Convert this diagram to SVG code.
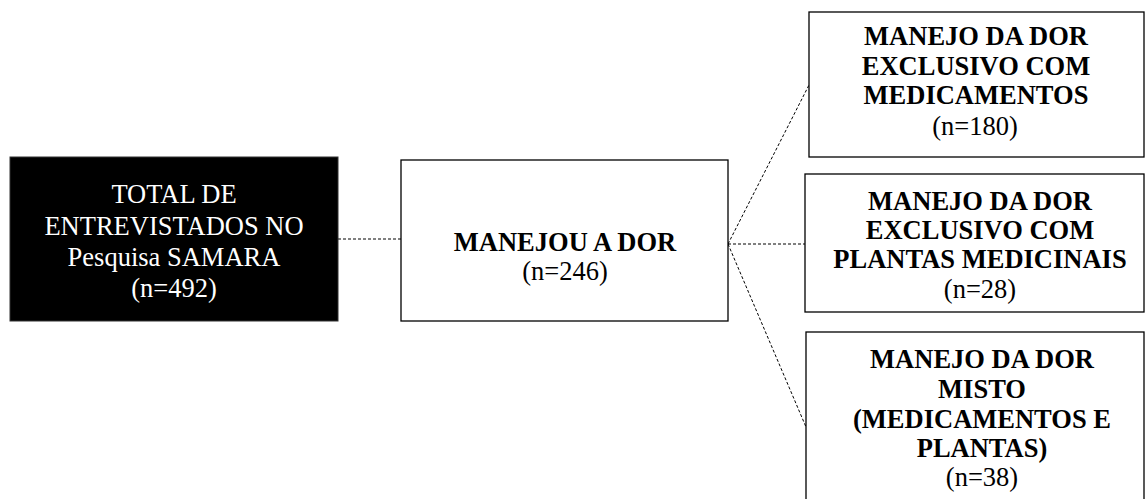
<svg xmlns="http://www.w3.org/2000/svg" width="1145" height="499" viewBox="0 0 1145 499">
<style>
.box{fill:#fff;stroke:#000;stroke-width:1.3}
.t{font-family:"Liberation Serif","Times New Roman",serif;font-size:26.5px;text-anchor:middle;fill:#000}
.b{font-weight:bold}
.w{fill:#fff}
.c{stroke:#000;stroke-width:1;stroke-dasharray:3,2;fill:none}
</style>
<rect width="1145" height="499" fill="#fff"/>
<g id="connectors">
<line class="c" x1="338" y1="239" x2="401" y2="239"/>
<line class="c" x1="728" y1="244" x2="809" y2="85"/>
<line class="c" x1="728" y1="244" x2="805" y2="244"/>
<line class="c" x1="728" y1="244" x2="806" y2="427"/>
</g>
<g id="total">
<rect x="10" y="157" width="328" height="164" fill="#000" stroke="#333" stroke-width="1"/>
<text class="t w" x="174" y="203">TOTAL DE</text>
<text class="t w" x="174" y="235">ENTREVISTADOS NO</text>
<text class="t w" x="174" y="266">Pesquisa SAMARA</text>
<text class="t w" x="174" y="297">(n=492)</text>
</g>
<g id="manejou">
<rect class="box" x="401" y="160" width="327" height="161"/>
<text class="t b" x="565" y="251">MANEJOU A DOR</text>
<text class="t" x="565" y="280">(n=246)</text>
</g>
<g id="medicamentos">
<rect class="box" x="809" y="12" width="335" height="145"/>
<text class="t b" x="976" y="45">MANEJO DA DOR</text>
<text class="t b" x="976" y="75">EXCLUSIVO COM</text>
<text class="t b" x="976" y="104">MEDICAMENTOS</text>
<text class="t" x="975" y="135">(n=180)</text>
</g>
<g id="plantas">
<rect class="box" x="805" y="174" width="339" height="138"/>
<text class="t b" x="980" y="210">MANEJO DA DOR</text>
<text class="t b" x="980" y="239">EXCLUSIVO COM</text>
<text class="t b" x="980" y="268">PLANTAS MEDICINAIS</text>
<text class="t" x="980" y="298">(n=28)</text>
</g>
<g id="misto">
<rect class="box" x="806" y="332" width="338" height="180"/>
<text class="t b" x="982" y="368">MANEJO DA DOR</text>
<text class="t b" x="982" y="398">MISTO</text>
<text class="t b" x="982" y="428">(MEDICAMENTOS E</text>
<text class="t b" x="982" y="457">PLANTAS)</text>
<text class="t" x="982" y="486">(n=38)</text>
</g>
</svg>
